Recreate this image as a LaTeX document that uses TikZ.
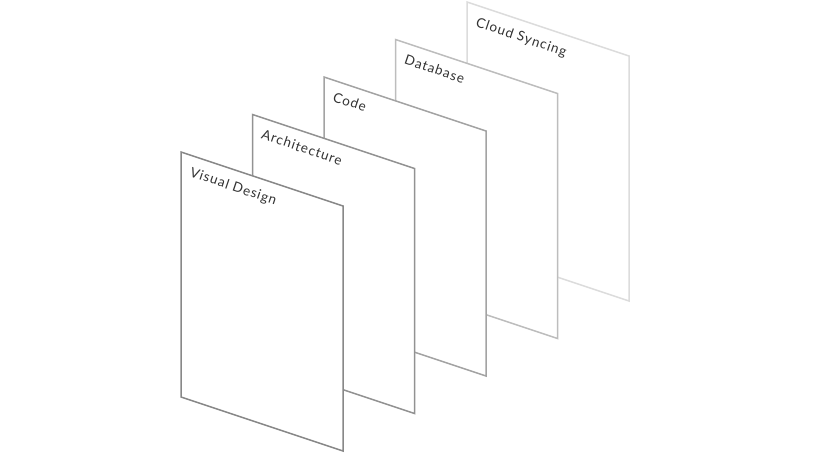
\documentclass[tikz,border=0pt]{standalone}
\usepackage{fontspec}
\setmainfont{Lato}[LetterSpace=7]
\usetikzlibrary{calc}
\definecolor{edgeA}{HTML}{888888}
\definecolor{edgeB}{HTML}{929292}
\definecolor{edgeC}{HTML}{A3A3A3}
\definecolor{edgeD}{HTML}{BDBDBD}
\definecolor{edgeE}{HTML}{DCDCDC}
\begin{document}
\begin{tikzpicture}[x=1pt, y=-1pt,
        sheet/.style={fill=white, line width=1.5pt},
        caption/.style={anchor=base west, rotate=-18.75, inner sep=0pt, font=\fontsize{13.5}{14}\selectfont, text=black!80}]
        \useasboundingbox (0,0) rectangle (825,453);

        \coordinate (s5) at (467, 2);
        \coordinate (s4) at (395.5, 39.5);
        \coordinate (s3) at (324, 77);
        \coordinate (s2) at (252.5, 114.5);
        \coordinate (s1) at (181, 152);

        \draw[sheet, draw=edgeE] (s5) -- ++(162,54) -- ++(0,245) -- ++(-162,-54) -- cycle;
        \node[caption] (t5) at ($(s5)+(8,24)$) {Cloud Syncing};
        \draw[sheet, draw=edgeD] (s4) -- ++(162,54) -- ++(0,245) -- ++(-162,-54) -- cycle;
        \node[caption] (t4) at ($(s4)+(8,24)$) {Database};
        \draw[sheet, draw=edgeC] (s3) -- ++(162,54) -- ++(0,245) -- ++(-162,-54) -- cycle;
        \node[caption] (t3) at ($(s3)+(8,24)$) {Code};
        \draw[sheet, draw=edgeB] (s2) -- ++(162,54) -- ++(0,245) -- ++(-162,-54) -- cycle;
        \node[caption] (t2) at ($(s2)+(8,24)$) {Architecture};
        \draw[sheet, draw=edgeA] (s1) -- ++(162,54) -- ++(0,245) -- ++(-162,-54) -- cycle;
        \node[caption] (t1) at ($(s1)+(8,24)$) {Visual Design};
    \end{tikzpicture}
\end{document}
